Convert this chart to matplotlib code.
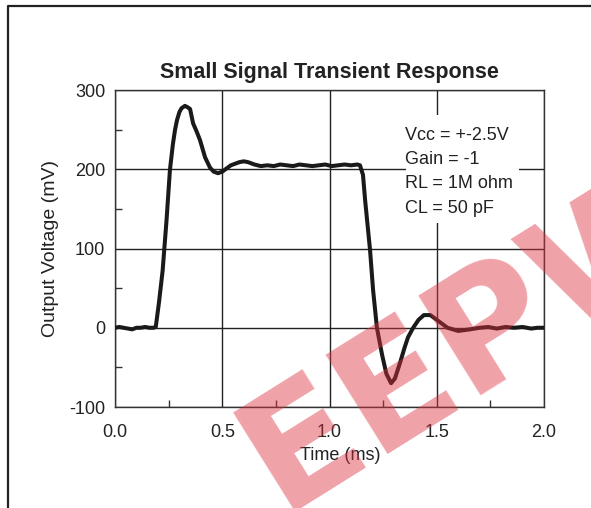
import matplotlib.pyplot as plt
from matplotlib.lines import Line2D
from matplotlib.ticker import MultipleLocator

plt.rcParams['font.family'] = ['Liberation Sans', 'DejaVu Sans']
plt.rcParams['axes.unicode_minus'] = False

# time (ms) and output voltage (mV)
t_ms = [0.00, 0.02, 0.04, 0.06, 0.08, 0.10, 0.12, 0.14, 0.16, 0.18, 0.19,
        0.205, 0.222, 0.24, 0.256, 0.27, 0.28, 0.289, 0.30, 0.31, 0.326,
        0.34, 0.35, 0.364, 0.38, 0.396, 0.42, 0.443, 0.46, 0.48, 0.50,
        0.52, 0.54, 0.56, 0.58, 0.60, 0.62, 0.65, 0.68, 0.71, 0.74, 0.77,
        0.80, 0.83, 0.86, 0.89, 0.92, 0.95, 0.98, 1.01, 1.04, 1.07, 1.10,
        1.13, 1.142, 1.156, 1.166, 1.178, 1.189, 1.203, 1.221, 1.245, 1.265,
        1.287, 1.305, 1.329, 1.35, 1.366, 1.39, 1.415, 1.44, 1.47, 1.50,
        1.55, 1.60, 1.655, 1.70, 1.74, 1.78, 1.82, 1.86, 1.90, 1.94, 1.97,
        2.00]
v_mv = [0, 1, 0, -1, -2, 0, 0, 1, 0, 0, 1,
        32, 72, 135, 199, 232, 250, 262, 272, 277, 280,
        278, 276, 258, 248, 237, 215, 202, 197, 195, 197,
        201, 205, 207, 209, 210, 209, 206, 204, 205, 204, 206,
        205, 204, 206, 205, 204, 205, 206, 204, 205, 206, 205,
        206, 205, 193, 161, 128, 98, 48, 0, -34, -58,
        -70, -64, -44, -25, -12, 0, 10, 16, 16, 10,
        0, -4, -2, 0, 1, -1, 1, 0, 1, -1, 0,
        0]

x_ticks = [0.0, 0.5, 1.0, 1.5, 2.0]
y_ticks = [-100, 0, 100, 200, 300]
notes = ['Vcc = +-2.5V', 'Gain = -1', 'RL = 1M ohm', 'CL = 50 pF']

fig = plt.figure(figsize=(5.91, 5.08), dpi=100)
ax = fig.add_axes([0.1946, 0.1988, 0.7259, 0.624])

ax.plot(t_ms, v_mv, color='#1a1a1a', lw=2.9, solid_joinstyle='round', zorder=3)

ax.set_xlim(0, 2.0)
ax.set_ylim(-100, 300)
ax.set_xticks(x_ticks)
ax.set_xticklabels(['%.1f' % x for x in x_ticks])
ax.set_yticks(y_ticks)
ax.xaxis.set_minor_locator(MultipleLocator(0.25))
ax.yaxis.set_minor_locator(MultipleLocator(50))
ax.tick_params(which='major', length=0, labelsize=13, colors='#222')
ax.tick_params(axis='x', which='major', pad=12)
ax.tick_params(axis='y', which='major', pad=7)
ax.tick_params(which='minor', direction='in', length=5, width=1, color='#333')
ax.grid(True, which='major', color='#222', lw=1.0)
for s in ax.spines.values():
    s.set_color('#333')
    s.set_linewidth(1.0)

ax.set_title('Small Signal Transient Response', fontsize=15.5,
             fontweight='bold', color='#222', pad=9)
ax.set_xlabel('Time (ms)', fontsize=13, color='#222')
ax.set_ylabel('Output Voltage (mV)', fontsize=14, color='#222')
ax.xaxis.set_label_coords(0.524, -0.125)
ax.yaxis.set_label_coords(-0.13, 0.5)

# white box behind the test conditions
ax.add_patch(plt.Rectangle((0.678, 0.582), 0.263, 0.34, transform=ax.transAxes,
                           facecolor='white', edgecolor='none', zorder=4))
for i, s in enumerate(notes):
    ax.text(0.677, 0.857 - i * 0.0767, s, transform=ax.transAxes,
            fontsize=13, color='#222', va='center', ha='left', zorder=5)

# outer frame
fig.add_artist(Line2D([8 / 591, 8 / 591, 1.0], [0.0, 1 - 6 / 508, 1 - 6 / 508],
                      color='#222', lw=1.6))

# watermark
fig.text(475 / 591, 1 - 338 / 508, 'EEPW', fontsize=116, fontweight='heavy',
         color='#dc3240', alpha=0.45, rotation=32, ha='center', va='center',
         family='DejaVu Sans', zorder=10)

fig.savefig('out.png', dpi=100)
